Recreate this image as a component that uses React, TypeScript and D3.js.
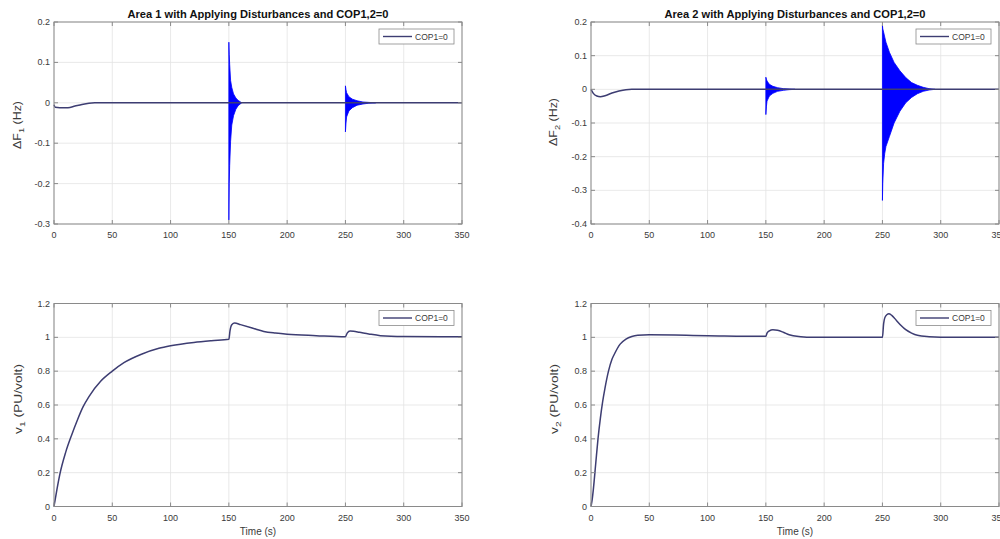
import React from "react";
import * as d3 from "d3";

// ---- axis ticks ----
const timeTicks = [0, 50, 100, 150, 200, 250, 300, 350];
const f1Ticks = [-0.3, -0.2, -0.1, 0, 0.1, 0.2];
const f2Ticks = [-0.4, -0.3, -0.2, -0.1, 0, 0.1, 0.2];
const vTicks = [0, 0.2, 0.4, 0.6, 0.8, 1, 1.2];

const legendLabel = "COP1=0";

// ---- Area 1 frequency deviation: settled trace ----
const f1Time = [0, 1, 5, 12, 18, 24, 30, 35, 150, 250, 350];
const f1Value = [-0.005, -0.011, -0.012, -0.012, -0.008, -0.004, -0.001, 0, 0, 0, 0];

// Area 1 oscillation envelopes after the disturbances
const f1BurstATime = [150, 150.3, 150.7, 151.5, 152.5, 154, 156, 158, 161];
const f1BurstAHigh = [0.15, 0.12, 0.095, 0.055, 0.038, 0.022, 0.012, 0.006, 0];
const f1BurstALow = [-0.29, -0.2, -0.155, -0.095, -0.055, -0.032, -0.016, -0.007, 0];

const f1BurstBTime = [250, 250.5, 251, 253, 256, 260, 265, 270, 276];
const f1BurstBHigh = [0.042, 0.032, 0.025, 0.015, 0.009, 0.005, 0.002, 0.001, 0];
const f1BurstBLow = [-0.072, -0.05, -0.035, -0.02, -0.012, -0.006, -0.003, -0.001, 0];

// ---- Area 2 frequency deviation: settled trace ----
const f2Time = [0, 2, 5, 8, 12, 18, 24, 30, 35, 150, 250, 350];
const f2Value = [0, -0.012, -0.02, -0.022, -0.019, -0.011, -0.005, -0.001, 0, 0, 0, 0];

// Area 2 oscillation envelopes
const f2BurstATime = [150, 150.5, 151, 153, 156, 160, 165, 170, 175];
const f2BurstAHigh = [0.036, 0.03, 0.025, 0.015, 0.009, 0.005, 0.002, 0.001, 0];
const f2BurstALow = [-0.075, -0.05, -0.035, -0.02, -0.012, -0.006, -0.003, -0.001, 0];

const f2BurstBTime = [250, 250.3, 251, 252, 253, 256, 260, 265, 270, 275, 280, 285, 290, 295];
const f2BurstBHigh = [0.19, 0.18, 0.17, 0.155, 0.14, 0.11, 0.08, 0.055, 0.035, 0.02, 0.012, 0.006, 0.002, 0];
const f2BurstBLow = [-0.33, -0.28, -0.22, -0.19, -0.17, -0.14, -0.1, -0.065, -0.04, -0.024, -0.013, -0.006, -0.002, 0];

// ---- Area 1 voltage ----
const v1Time = [0, 2.5, 5, 10, 15, 20, 25, 30, 40, 50, 60, 75, 90, 100, 120, 135, 150, 151, 152.5, 155, 160, 170, 180, 190, 200, 225, 250, 251.5, 254, 257, 262, 270, 280, 300, 350];
const v1Value = [0, 0.1, 0.19, 0.32, 0.42, 0.51, 0.59, 0.65, 0.74, 0.8, 0.85, 0.9, 0.935, 0.95, 0.97, 0.98, 0.988, 1.04, 1.075, 1.085, 1.075, 1.055, 1.035, 1.025, 1.018, 1.01, 1.004, 1.025, 1.037, 1.036, 1.03, 1.02, 1.01, 1.005, 1.003];

// ---- Area 2 voltage ----
const v2Time = [0, 1, 2, 4, 6, 8, 10, 12, 15, 18, 20, 25, 30, 35, 40, 50, 100, 150, 151, 153, 156, 160, 165, 170, 180, 190, 250, 251, 252, 254, 255.5, 258, 262, 266, 270, 275, 280, 290, 300, 350];
const v2Value = [0, 0.04, 0.1, 0.25, 0.4, 0.52, 0.62, 0.7, 0.8, 0.87, 0.9, 0.96, 0.99, 1.005, 1.012, 1.015, 1.01, 1.006, 1.025, 1.038, 1.045, 1.042, 1.03, 1.015, 1.004, 1.0, 1.0, 1.08, 1.115, 1.135, 1.14, 1.13, 1.1, 1.07, 1.045, 1.025, 1.012, 1.004, 1.001, 1.0];

const LINE = "#3d3d72";
const BURST = "#0000ff";
const FRAME = "#8a8a8a";
const TEXT = "#3a3a3a";
const FONT = "'Liberation Sans', Arial, Helvetica, sans-serif";

type Burst = { t: number[]; hi: number[]; lo: number[] };

type PanelProps = {
  left: number;
  top: number;
  width: number;
  height: number;
  yTicks: number[];
  t: number[];
  v: number[];
  bursts?: Burst[];
  title?: string;
  labelMain: string;
  labelSub: string;
  labelRest: string;
  labelX: number;
  labelCy: number;
  labelLen: number;
  xLabel?: string;
};

function Panel(p: PanelProps) {
  const x = d3.scaleLinear().domain([0, 350]).range([p.left, p.left + p.width]);
  const yMin = p.yTicks[0];
  const yMax = p.yTicks[p.yTicks.length - 1];
  const y = d3.scaleLinear().domain([yMin, yMax]).range([p.top + p.height, p.top]);
  const pts: [number, number][] = p.t.map((tt, i) => [tt, p.v[i]]);
  const line = d3
    .line<[number, number]>()
    .x((d) => x(d[0]))
    .y((d) => y(d[1]))
    .curve(d3.curveMonotoneX);
  const bottom = p.top + p.height;
  const right = p.left + p.width;
  const tickLen = 4;

  return (
    <g fontFamily={FONT}>
      {/* grid */}
      {timeTicks.map((tk) => (
        <line key={"gx" + tk} x1={x(tk)} x2={x(tk)} y1={p.top} y2={bottom} stroke="#e3e3e3" strokeWidth={0.8} />
      ))}
      {p.yTicks.map((tk) => (
        <line key={"gy" + tk} x1={p.left} x2={right} y1={y(tk)} y2={y(tk)} stroke="#e3e3e3" strokeWidth={0.8} />
      ))}
      {/* oscillation envelopes */}
      {(p.bursts || []).map((b, bi) => {
        const gen = d3
          .area<number>()
          .x((_, i) => x(b.t[i]))
          .y0((_, i) => y(b.lo[i]))
          .y1((_, i) => y(b.hi[i]))
          .curve(d3.curveLinear);
        return <path key={"b" + bi} d={gen(b.t) || ""} fill={BURST} stroke={BURST} strokeWidth={0.8} />;
      })}
      {/* trace */}
      <path d={line(pts) || ""} fill="none" stroke={LINE} strokeWidth={1.5} />
      {/* frame */}
      <rect x={p.left} y={p.top} width={p.width} height={p.height} fill="none" stroke={FRAME} strokeWidth={1} />
      {/* tick marks */}
      {timeTicks.map((tk) => (
        <g key={"tx" + tk}>
          <line x1={x(tk)} x2={x(tk)} y1={bottom} y2={bottom - tickLen} stroke={FRAME} />
          <line x1={x(tk)} x2={x(tk)} y1={p.top} y2={p.top + tickLen} stroke={FRAME} />
          <text x={x(tk)} y={bottom + 14} fontSize={9} fill={TEXT} textAnchor="middle">
            {tk}
          </text>
        </g>
      ))}
      {p.yTicks.map((tk) => (
        <g key={"ty" + tk}>
          <line x1={p.left} x2={p.left + tickLen} y1={y(tk)} y2={y(tk)} stroke={FRAME} />
          <line x1={right} x2={right - tickLen} y1={y(tk)} y2={y(tk)} stroke={FRAME} />
          <text x={p.left - 4} y={y(tk) + 3} fontSize={9} fill={TEXT} textAnchor="end">
            {String(tk)}
          </text>
        </g>
      ))}
      {/* legend */}
      <g>
        <rect x={right - 83} y={p.top + 7} width={75} height={15} fill="#fff" stroke={FRAME} strokeWidth={0.8} />
        <line x1={right - 79} x2={right - 50} y1={p.top + 14.5} y2={p.top + 14.5} stroke={LINE} strokeWidth={1.4} />
        <text x={right - 47} y={p.top + 17.5} fontSize={8.5} fill={TEXT}>
          {legendLabel}
        </text>
      </g>
      {/* title */}
      {p.title && (
        <text x={(p.left + right) / 2} y={17.5} fontSize={10} fontWeight="bold" fill="#111" textAnchor="middle" textLength={261} lengthAdjust="spacingAndGlyphs">
          {p.title}
        </text>
      )}
      {/* axis labels */}
      <text
        transform={`translate(${p.labelX},${p.labelCy}) rotate(-90)`}
        fontSize={10}
        fill={TEXT}
        textAnchor="middle"
        textLength={p.labelLen}
        lengthAdjust="spacingAndGlyphs"
      >
        {p.labelMain}
        <tspan fontSize={7.5} dy={3}>{p.labelSub}</tspan>
        <tspan dy={-3}>{p.labelRest}</tspan>
      </text>
      {p.xLabel && (
        <text x={(p.left + right) / 2} y={535} fontSize={10} fill={TEXT} textAnchor="middle">
          {p.xLabel}
        </text>
      )}
    </g>
  );
}

export default function App() {
  const W = 408;
  return (
    <svg width={1000} height={539} style={{ position: "absolute", left: 0, top: 0, background: "#fff" }}>
      <rect x={0} y={0} width={1000} height={539} fill="#fff" />
      <Panel
        left={54}
        top={22}
        width={W}
        height={202}
        yTicks={f1Ticks}
        t={f1Time}
        v={f1Value}
        bursts={[
          { t: f1BurstATime, hi: f1BurstAHigh, lo: f1BurstALow },
          { t: f1BurstBTime, hi: f1BurstBHigh, lo: f1BurstBLow },
        ]}
        title="Area 1 with Applying Disturbances and COP1,2=0"
        labelMain="ΔF"
        labelSub="1"
        labelRest=" (Hz)"
        labelX={21}
        labelCy={125}
        labelLen={48}
      />
      <Panel
        left={591}
        top={22}
        width={W}
        height={202}
        yTicks={f2Ticks}
        t={f2Time}
        v={f2Value}
        bursts={[
          { t: f2BurstATime, hi: f2BurstAHigh, lo: f2BurstALow },
          { t: f2BurstBTime, hi: f2BurstBHigh, lo: f2BurstBLow },
        ]}
        title="Area 2 with Applying Disturbances and COP1,2=0"
        labelMain="ΔF"
        labelSub="2"
        labelRest=" (Hz)"
        labelX={557}
        labelCy={122}
        labelLen={48}
      />
      <Panel
        left={54}
        top={303.5}
        width={W}
        height={203}
        yTicks={vTicks}
        t={v1Time}
        v={v1Value}
        labelMain="v"
        labelSub="1"
        labelRest=" (PU/volt)"
        labelX={22}
        labelCy={399}
        labelLen={70}
        xLabel="Time (s)"
      />
      <Panel
        left={591}
        top={303.5}
        width={W}
        height={203}
        yTicks={vTicks}
        t={v2Time}
        v={v2Value}
        labelMain="v"
        labelSub="2"
        labelRest=" (PU/volt)"
        labelX={558}
        labelCy={399}
        labelLen={70}
        xLabel="Time (s)"
      />
    </svg>
  );
}
